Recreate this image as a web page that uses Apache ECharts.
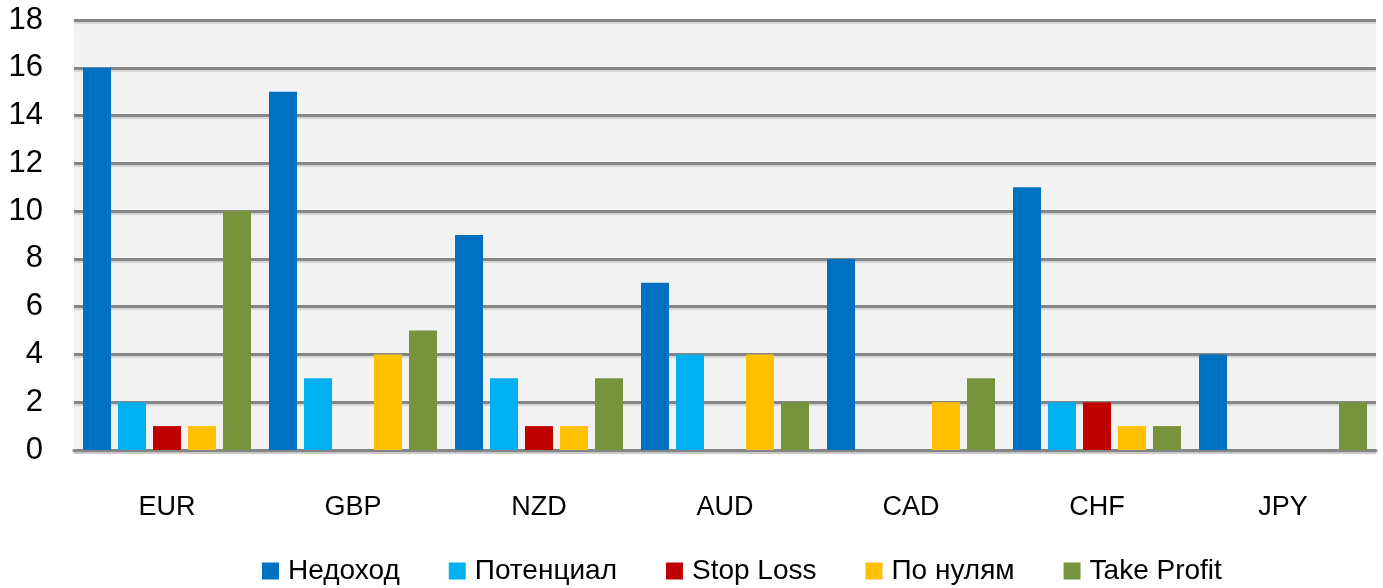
<!DOCTYPE html>
<html>
<head>
<meta charset="utf-8">
<script src="https://cdn.jsdelivr.net/npm/echarts@6/dist/echarts.min.js"></script>
<style>
  html, body { margin: 0; padding: 0; background: #fff; }
  #chart { width: 1383px; height: 588px; }
</style>
</head>
<body>
<div id="chart"></div>
<script>
// валюты
const currencies = ['EUR', 'GBP', 'NZD', 'AUD', 'CAD', 'CHF', 'JPY']
// серии
const nedohod = [16, 15, 9, 7, 8, 11, 4]
const potencial = [2, 3, 3, 4, 0, 2, 0]
const stopLoss = [1, 0, 1, 0, 0, 2, 0]
const poNulyam = [1, 4, 1, 4, 2, 1, 0]
const takeProfit = [10, 5, 3, 2, 3, 1, 2]

const seriesList = [
  { name: 'Недоход', data: nedohod, color: '#0070C0' },
  { name: 'Потенциал', data: potencial, color: '#00B0F0' },
  { name: 'Stop Loss', data: stopLoss, color: '#C00000' },
  { name: 'По нулям', data: poNulyam, color: '#FFC000' },
  { name: 'Take Profit', data: takeProfit, color: '#77933C' }
]

const font = 'Liberation Sans'
const lineStyle = {
  color: '#868686',
  width: 3,
  shadowColor: 'rgba(0,0,0,0.12)',
  shadowOffsetY: 2,
  shadowBlur: 1
}

const chartInstance = echarts.init(document.getElementById('chart'))
const option = {
  animation: false,
  grid: {
    left: 74,
    right: 7,
    top: 20,
    bottom: 138,
    show: true,
    backgroundColor: '#f2f2f2',
    borderWidth: 0
  },
  legend: {
    left: 257,
    top: 552,
    itemWidth: 17,
    itemHeight: 17,
    itemGap: 49,
    icon: 'rect',
    selectedMode: false,
    textStyle: { color: '#000', fontFamily: font, fontSize: 28, padding: [0, 0, 0, 4] },
    data: seriesList.map(s => s.name)
  },
  xAxis: {
    type: 'category',
    data: currencies,
    axisTick: { show: false },
    axisLine: { show: true, lineStyle: lineStyle },
    axisLabel: { color: '#000', fontFamily: font, fontSize: 27, margin: 44 }
  },
  yAxis: {
    type: 'value',
    min: 0,
    max: 18,
    interval: 2,
    axisLine: { show: false },
    axisTick: { show: false },
    axisLabel: { color: '#000', fontFamily: font, fontSize: 31, margin: 31 },
    splitLine: { show: true, lineStyle: lineStyle }
  },
  series: seriesList.map(item => ({
    name: item.name,
    type: 'bar',
    data: item.data,
    barWidth: 28,
    barGap: '25%',
    itemStyle: {
      color: item.color
    }
  }))
}
chartInstance.setOption(option)
</script>
</body>
</html>
